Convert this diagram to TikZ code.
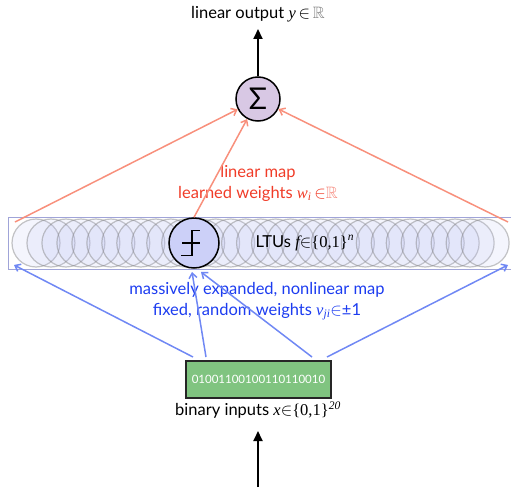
\documentclass[tikz,border=0pt]{standalone}
\usepackage{fontspec}
\setmainfont{Lato}
\newfontfamily\mathserif{Liberation Serif}
\usepackage{amssymb}
\usetikzlibrary{arrows.meta}
\definecolor{redarr}{HTML}{F8907C}
\definecolor{bluearr}{HTML}{7088F4}
\definecolor{redtxt}{HTML}{F03C28}
\definecolor{bluetxt}{HTML}{1C3CF0}
\definecolor{sigfill}{HTML}{D8C8E4}
\definecolor{ltufill}{HTML}{CCD0F8}
\definecolor{boxgreen}{HTML}{80C480}
\definecolor{rectline}{HTML}{A0A4D8}
\definecolor{bubfill}{HTML}{B8BEF4}
\tikzset{
  redarrow/.style={draw=redarr, line width=1.5pt, -{Straight Barb[length=5pt,width=8pt]}},
  bluearrow/.style={draw=bluearr, line width=1.5pt, -{Straight Barb[length=5pt,width=8pt]}},
  blackarrow/.style={draw=black, line width=2pt, -{Triangle[length=10pt,width=9pt]}},
  bubble/.style={draw=gray, draw opacity=0.45, fill=bubfill, fill opacity=0.14, line width=1.2pt},
  neuron/.style={circle, draw=black, line width=1.5pt, inner sep=0pt},
  lbl/.style={font=\fontsize{16.5}{21}\selectfont, align=center},
}
\newcommand{\vi}[1]{{\mathserif\itshape #1}}
\newcommand{\elem}{\ensuremath{\in}}
\begin{document}
\begin{tikzpicture}[x=1pt,y=-1pt]
\useasboundingbox (0,0) rectangle (511,487);
% layer rectangle
\node[draw=rectline, fill=white, line width=1.4pt, minimum width=510pt, minimum height=52pt, anchor=north west, inner sep=0pt] (layer) at (8,217) {};
\foreach \i in {0,...,30} {
  \fill[bubble] (36+\i*14.97,243) circle (24);
}
\node[neuron, fill=ltufill, minimum size=50pt] (ltu) at (194,243) {};
\draw[line width=1.1pt] (ltu.center) ++(-12,0) -- ++(17.5,0);
\draw[line width=1.1pt] (ltu.center) ++(-13,12.5) -- ++(11,0) -- ++(0,-25) -- ++(8,0);
\node[lbl, anchor=west] (ltulbl) at (252,243) {LTUs \vi{f}\elem{\mathserif\{0,1\}}\textsuperscript{\vi{n}}};
% sigma
\node[neuron, fill=sigfill, minimum size=44pt, font=\fontsize{30}{30}\selectfont] (sig) at (258,99) {Σ};
\node[lbl] (out) at (258,14) {linear output \vi{y}\,\elem\,\textcolor{gray}{$\mathbb{R}$}};
\coordinate (outtip) at (258,29);
\draw[blackarrow] (sig.north) -- (outtip);
% red labels
\node[lbl, text=redtxt] (redlbl) at (258,183) {linear map\\learned weights \vi{w\textsubscript{i}}\,\elem\textcolor{redtxt!60}{$\mathbb{R}$}};
\coordinate (lefttop) at (15,222);
\coordinate (righttop) at (508,222);
\draw[redarrow] (lefttop) -- (sig);
\draw[redarrow] (ltu.north) -- (sig);
\draw[redarrow] (righttop) -- (sig);
% input box
\node[draw=black!85, fill=boxgreen, line width=1.4pt, minimum width=145pt, minimum height=37pt, inner sep=0pt, text=white, font=\fontsize{11.5}{12}\selectfont] (inp) at (258.5,379.5) {01001100100110110010};
\node[lbl] (inlbl) at (258,410) {binary inputs \vi{x}\elem{\mathserif\{0,1\}}\textsuperscript{\vi{20}}};
\coordinate (botstart) at (258,487);
\coordinate (bottip) at (258,431);
\draw[blackarrow] (botstart) -- (bottip);
% blue
\node[lbl, text=bluetxt] (bluelbl) at (257,301) {massively expanded, nonlinear map\\fixed, random weights \vi{v\textsubscript{ji}}\elem±1};
\coordinate (b1) at (193,357);
\coordinate (b2) at (206,357);
\coordinate (b3) at (312,357);
\coordinate (b4) at (327,357);
\coordinate (leftbot) at (14,265);
\coordinate (rightbot) at (508,265);
\coordinate (ltub1) at (192,272);
\coordinate (ltub2) at (201,272);
\draw[bluearrow] (b1) -- (leftbot);
\draw[bluearrow] (b2) -- (ltub1);
\draw[bluearrow] (b3) -- (ltub2);
\draw[bluearrow] (b4) -- (rightbot);
\end{tikzpicture}
\end{document}
